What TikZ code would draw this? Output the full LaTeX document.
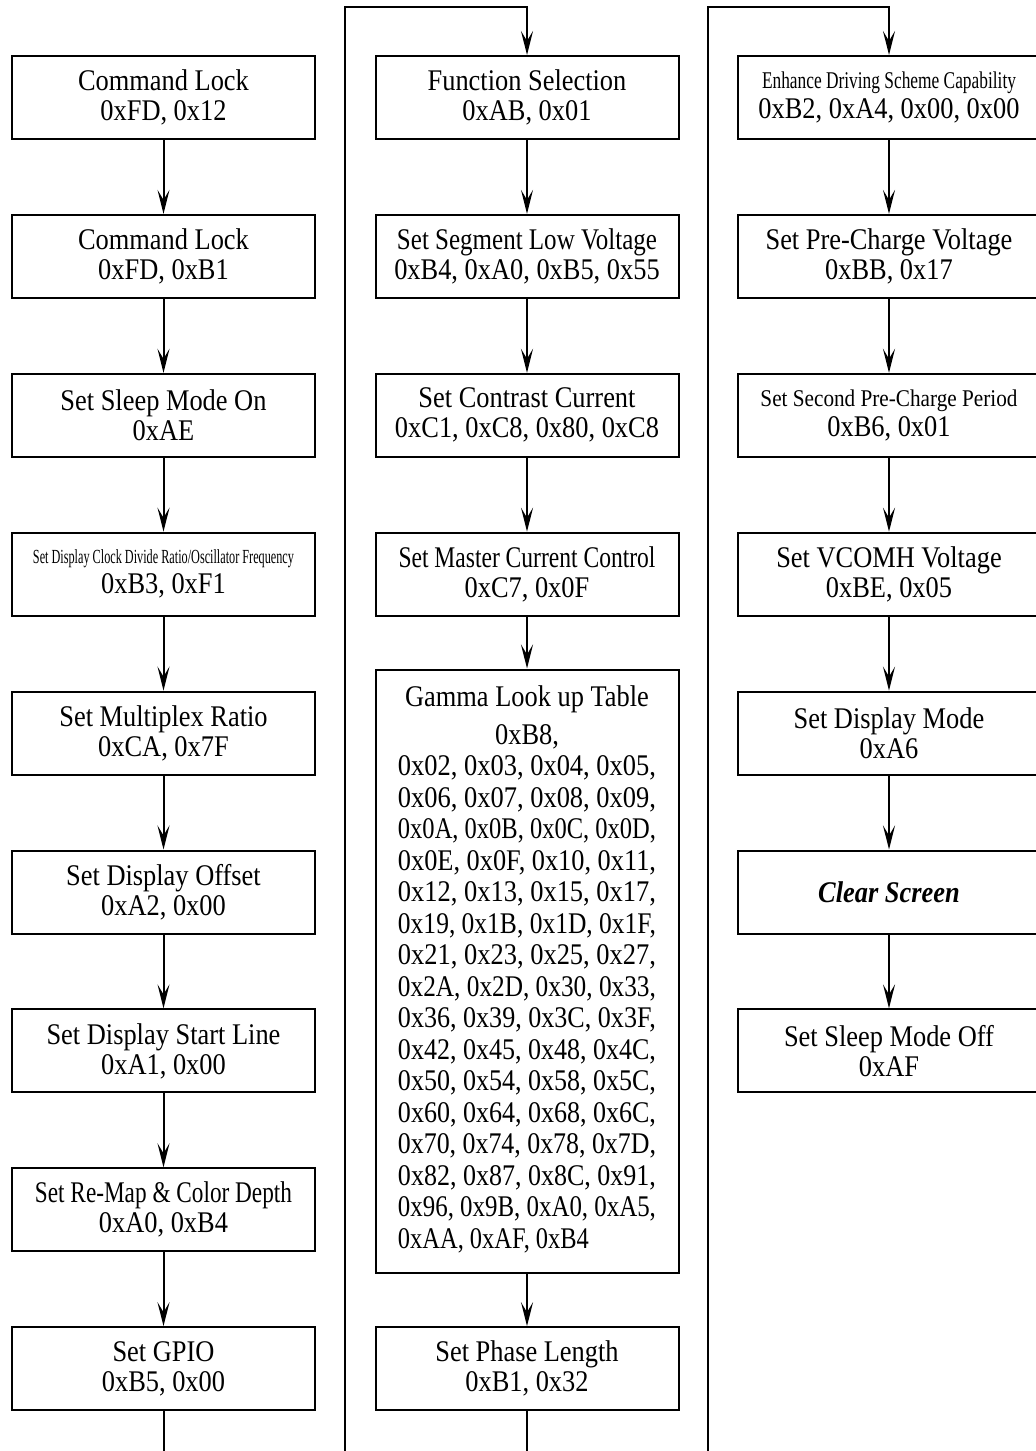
\documentclass[tikz,border=0pt]{standalone}
\usepackage{fontspec}
\setmainfont{Liberation Serif}[FakeStretch=0.88]
\usetikzlibrary{arrows.meta}

% squeezed caption: width, font size, text
\newcommand{\squeeze}[3]{\resizebox{#1}{\height}{\fontsize{#2}{#2}\selectfont #3}}
% one full line of the gamma table
\newcommand{\gline}[1]{\resizebox{129pt}{\height}{#1}}

\tikzset{
  cmd/.style={draw, line width=1pt, minimum width=151.5pt, minimum height=41.5pt,
    inner sep=0pt, align=center, font=\fontsize{15pt}{15pt}\selectfont},
  flow/.style={line width=1pt, -{Stealth[length=12pt,width=6pt,inset=5pt]}},
}

\begin{document}
\begin{tikzpicture}[x=0.5pt,y=-0.5pt]
\useasboundingbox (0,0) rectangle (1035,1451);
\fill[white] (0,0) rectangle (1035,1451);

% first column
\node[cmd] (lockA) at (163.5,97.5) {Command Lock\\0xFD, 0x12};
\node[cmd] (lockB) at (163.5,256.4) {Command Lock\\0xFD, 0xB1};
\node[cmd] (sleepon) at (163.5,415.3) {Set Sleep Mode On\\0xAE};
\node[cmd] (clkdiv) at (163.5,574.2) {\squeeze{130.5pt}{10pt}{Set Display Clock Divide Ratio/Oscillator Frequency}\\0xB3, 0xF1};
\node[cmd] (mux) at (163.5,733.1) {Set Multiplex Ratio\\0xCA, 0x7F};
\node[cmd] (offset) at (163.5,892) {Set Display Offset\\0xA2, 0x00};
\node[cmd] (startln) at (163.5,1050.9) {Set Display Start Line\\0xA1, 0x00};
\node[cmd] (remap) at (163.5,1209.8) {\squeeze{128.5pt}{15pt}{Set Re-Map \& Color Depth}\\0xA0, 0xB4};
\node[cmd] (gpio) at (163.5,1368.7) {Set GPIO\\0xB5, 0x00};

% second column
\node[cmd] (fsel) at (527,97.5) {Function Selection\\0xAB, 0x01};
\node[cmd] (seglow) at (527,256.4) {\squeeze{130pt}{15pt}{Set Segment Low Voltage}\\0xB4, 0xA0, 0xB5, 0x55};
\node[cmd] (contrast) at (527,415.3) {Set Contrast Current\\0xC1, 0xC8, 0x80, 0xC8};
\node[cmd] (master) at (527,574.2) {\squeeze{128.5pt}{15pt}{Set Master Current Control}\\0xC7, 0x0F};
\node[cmd, minimum height=301.5pt, font=\fontsize{15pt}{15.75pt}\selectfont] (gamma) at (527,971) {%
  \begin{tabular}{@{}l@{}}
  \multicolumn{1}{@{}c@{}}{Gamma Look up Table}\\[3pt]
  \multicolumn{1}{@{}c@{}}{0xB8,}\\
  \gline{0x02, 0x03, 0x04, 0x05,}\\
  \gline{0x06, 0x07, 0x08, 0x09,}\\
  \gline{0x0A, 0x0B, 0x0C, 0x0D,}\\
  \gline{0x0E, 0x0F, 0x10, 0x11,}\\
  \gline{0x12, 0x13, 0x15, 0x17,}\\
  \gline{0x19, 0x1B, 0x1D, 0x1F,}\\
  \gline{0x21, 0x23, 0x25, 0x27,}\\
  \gline{0x2A, 0x2D, 0x30, 0x33,}\\
  \gline{0x36, 0x39, 0x3C, 0x3F,}\\
  \gline{0x42, 0x45, 0x48, 0x4C,}\\
  \gline{0x50, 0x54, 0x58, 0x5C,}\\
  \gline{0x60, 0x64, 0x68, 0x6C,}\\
  \gline{0x70, 0x74, 0x78, 0x7D,}\\
  \gline{0x82, 0x87, 0x8C, 0x91,}\\
  \gline{0x96, 0x9B, 0xA0, 0xA5,}\\
  \resizebox{95.5pt}{\height}{0xAA, 0xAF, 0xB4}
  \end{tabular}};
\node[cmd] (phase) at (527,1368.7) {Set Phase Length\\0xB1, 0x32};

% third column
\node[cmd] (enhance) at (889,97.5) {\squeeze{127pt}{12pt}{Enhance Driving Scheme Capability}\\0xB2, 0xA4, 0x00, 0x00};
\node[cmd] (precharge) at (889,256.4) {Set Pre-Charge Voltage\\0xBB, 0x17};
\node[cmd] (second) at (889,415.3) {\squeeze{128.5pt}{12pt}{Set Second Pre-Charge Period}\\0xB6, 0x01};
\node[cmd] (vcomh) at (889,574.2) {Set VCOMH Voltage\\0xBE, 0x05};
\node[cmd] (dmode) at (889,733.1) {Set Display Mode\\0xA6};
\node[cmd] (clear) at (889,892) {\textbf{\textit{Clear Screen}}};
\node[cmd] (sleepoff) at (889,1050.9) {Set Sleep Mode Off\\0xAF};

% flow inside columns
\draw[flow] (lockA) -- (lockB);
\draw[flow] (lockB) -- (sleepon);
\draw[flow] (sleepon) -- (clkdiv);
\draw[flow] (clkdiv) -- (mux);
\draw[flow] (mux) -- (offset);
\draw[flow] (offset) -- (startln);
\draw[flow] (startln) -- (remap);
\draw[flow] (remap) -- (gpio);
\draw[flow] (fsel) -- (seglow);
\draw[flow] (seglow) -- (contrast);
\draw[flow] (contrast) -- (master);
\draw[flow] (master) -- (gamma);
\draw[flow] (gamma) -- (phase);
\draw[flow] (enhance) -- (precharge);
\draw[flow] (precharge) -- (second);
\draw[flow] (second) -- (vcomh);
\draw[flow] (vcomh) -- (dmode);
\draw[flow] (dmode) -- (clear);
\draw[flow] (clear) -- (sleepoff);

% column change (runs below the page edge)
\coordinate (belowA) at (163.5,1520);
\coordinate (topA) at (345,7);
\coordinate (belowB) at (527,1520);
\coordinate (topB) at (708,7);
\draw[flow] (gpio) -- (belowA) -| (topA) -| (fsel);
\draw[flow] (phase) -- (belowB) -| (topB) -| (enhance);
\end{tikzpicture}
\end{document}
